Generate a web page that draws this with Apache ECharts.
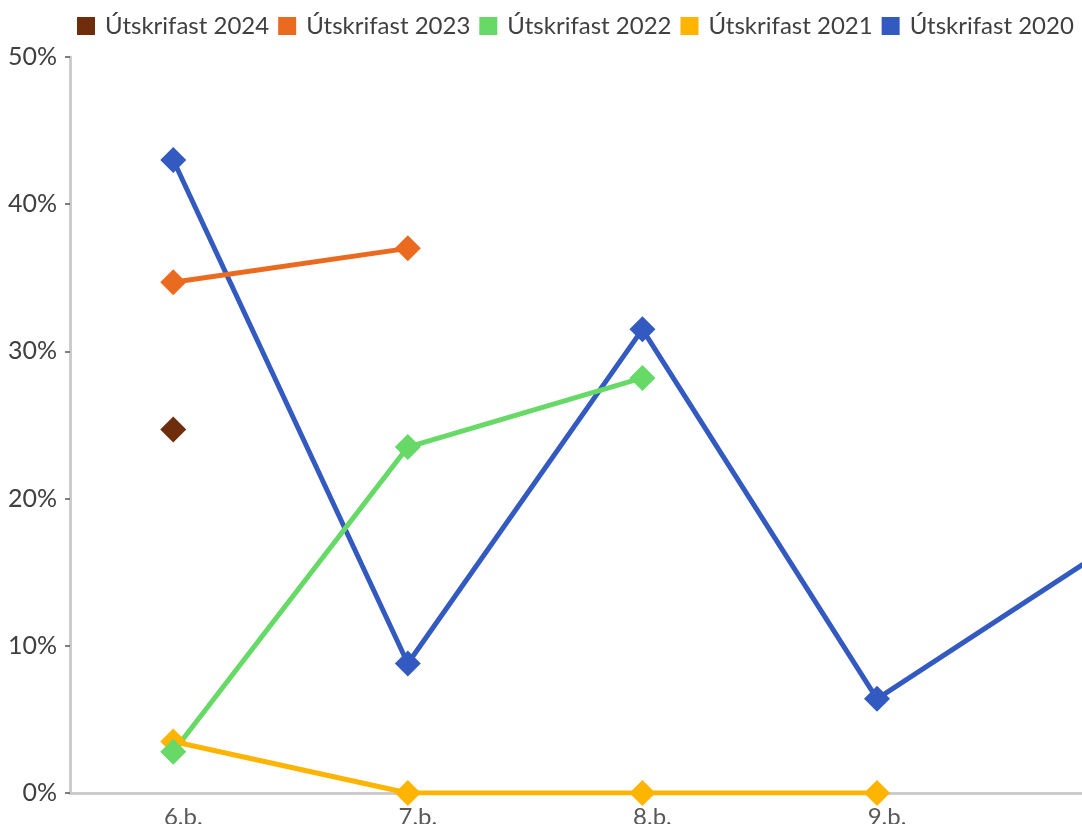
<!DOCTYPE html>
<html>
<head>
<meta charset="utf-8">
<script src="https://cdn.jsdelivr.net/npm/echarts@6/dist/echarts.min.js"></script>
<style>
html,body{margin:0;padding:0;overflow:hidden;background:#fff;width:1082px;height:824px;}
#chart{width:1300px;height:824px;}
</style>
</head>
<body>
<div id="chart"></div>
<script>
const categories = ['6.b.', '7.b.', '8.b.', '9.b.', '10.b.'];
const yTicks = [0, 10, 20, 30, 40, 50];
const legendOrder = ['Útskrifast 2024', 'Útskrifast 2023', 'Útskrifast 2022', 'Útskrifast 2021', 'Útskrifast 2020'];

const s2020 = [43.0, 8.8, 31.5, 6.4, 16.8];
const s2021 = [3.5, 0, 0, 0, null];
const s2022 = [2.8, 23.5, 28.2, null, null];
const s2023 = [34.7, 37.0, null, null, null];
const s2024 = [24.7, null, null, null, null];

const colors = {
  'Útskrifast 2024': '#6E2E0B',
  'Útskrifast 2023': '#EA6A20',
  'Útskrifast 2022': '#66D966',
  'Útskrifast 2021': '#FFB400',
  'Útskrifast 2020': '#335AC0'
};

function pts(arr){ return arr.map((v,i)=> v==null ? [i, null] : [i, v]); }

function mk(name, arr){
  return {
    name: name, type: 'line', data: pts(arr),
    symbol: 'diamond', symbolSize: 26,
    connectNulls: false,
    lineStyle: {width: 5, color: colors[name]},
    itemStyle: {color: colors[name]},
    emphasis: {disabled: true},
    animation: false
  };
}

const chart = echarts.init(document.getElementById('chart'), null, {renderer: 'canvas'});
const font = 'Lato';
chart.setOption({
  animation: false,
  textStyle: {fontFamily: font},
  legend: {
    data: legendOrder,
    left: 77, top: 14, padding: 0,
    icon: 'rect', itemWidth: 18, itemHeight: 18, itemGap: 9,
    textStyle: {fontFamily: font, fontSize: 24, color: '#404040', padding: [0, 0, 0, 5]}
  },
  grid: {left: 70, top: 57, width: 4.94 * 234.6, height: 736, containLabel: false, outerBoundsMode: 'none'},
  xAxis: {
    type: 'value', min: -0.44, max: 4.5, minInterval: 1, maxInterval: 1,
    splitLine: {show: false},
    axisTick: {show: false},
    axisLine: {show: true, onZero: false, lineStyle: {color: '#cccccc', width: 3}},
    axisLabel: {
      fontFamily: font, fontSize: 24, color: '#595959', margin: 12,
      padding: [0, 0, 0, 20],
      showMinLabel: true, showMaxLabel: true,
      formatter: function(v){ return Number.isInteger(v) && categories[v] != null ? categories[v] : ''; }
    }
  },
  yAxis: {
    type: 'value', min: yTicks[0], max: yTicks[yTicks.length-1], interval: 10,
    splitLine: {show: false},
    axisLine: {show: true, onZero: false, lineStyle: {color: '#cccccc', width: 3}},
    axisTick: {show: true, length: 5, lineStyle: {color: '#555555', width: 1.5}},
    axisLabel: {fontFamily: font, fontSize: 25, color: '#404040', margin: 13, formatter: '{value}%'}
  },
  series: [
    mk('Útskrifast 2020', s2020),
    mk('Útskrifast 2021', s2021),
    mk('Útskrifast 2022', s2022),
    mk('Útskrifast 2023', s2023),
    mk('Útskrifast 2024', s2024)
  ]
});
</script>
</body>
</html>
